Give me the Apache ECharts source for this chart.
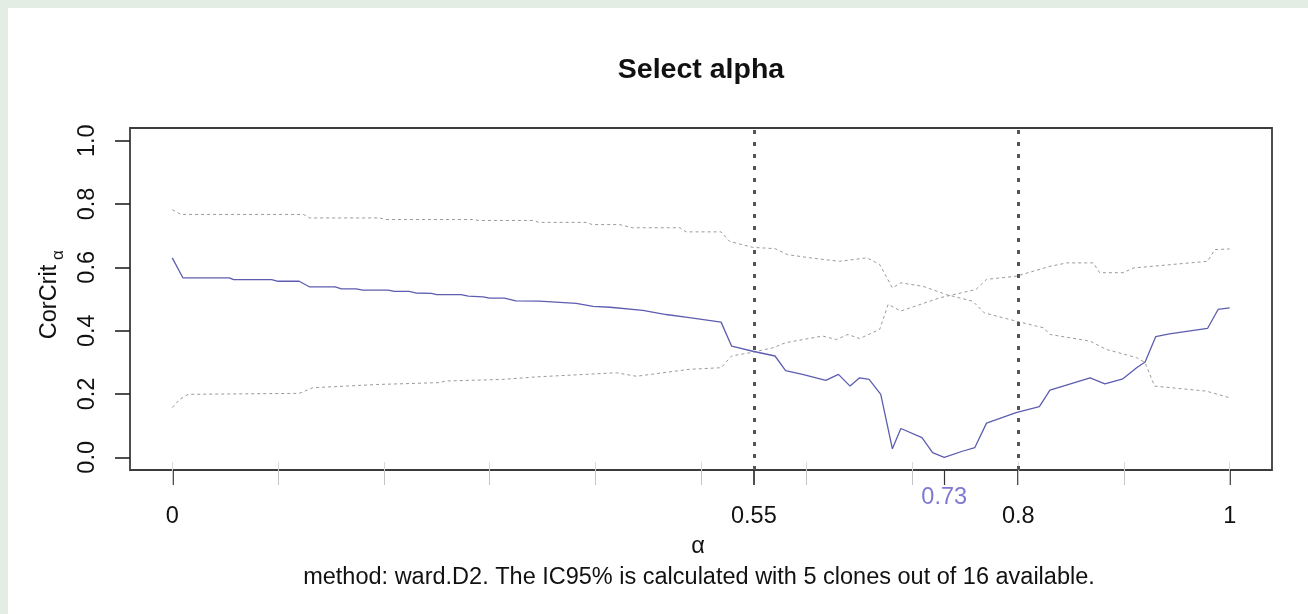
<!DOCTYPE html>
<html>
<head>
<meta charset="utf-8">
<script src="https://cdn.jsdelivr.net/npm/echarts@6/dist/echarts.min.js"></script>
<style>
  html, body { margin: 0; padding: 0; background: #e3ede4; }
  #chart { position: absolute; left: 0; top: 0; width: 1308px; height: 614px; }
</style>
</head>
<body>
<div id="chart"></div>
<script>
// ---- data ----
const critAlpha = [0, 0.01, 0.054, 0.058, 0.094, 0.1, 0.12, 0.13, 0.154, 0.16, 0.174, 0.18, 0.204, 0.21, 0.224, 0.23, 0.245, 0.25, 0.273, 0.28, 0.294, 0.30, 0.314, 0.325, 0.347, 0.382, 0.398, 0.414, 0.445, 0.467, 0.489, 0.519, 0.529, 0.549, 0.57, 0.58, 0.596, 0.618, 0.63, 0.641, 0.65, 0.659, 0.67, 0.681, 0.689, 0.709, 0.719, 0.73, 0.748, 0.759, 0.77, 0.798, 0.82, 0.83, 0.868, 0.882, 0.899, 0.912, 0.92, 0.93, 0.943, 0.979, 0.989, 1.0];
const critValue = [0.63, 0.567, 0.567, 0.561, 0.561, 0.556, 0.556, 0.538, 0.538, 0.532, 0.532, 0.528, 0.528, 0.524, 0.524, 0.519, 0.518, 0.514, 0.514, 0.509, 0.507, 0.503, 0.503, 0.494, 0.493, 0.486, 0.477, 0.474, 0.464, 0.451, 0.441, 0.427, 0.351, 0.335, 0.32, 0.274, 0.262, 0.243, 0.262, 0.225, 0.251, 0.246, 0.199, 0.027, 0.091, 0.062, 0.015, 0.0, 0.02, 0.031, 0.108, 0.141, 0.16, 0.212, 0.251, 0.232, 0.248, 0.283, 0.301, 0.381, 0.39, 0.407, 0.467, 0.472];

const upAlpha = [0, 0.008, 0.124, 0.13, 0.196, 0.202, 0.284, 0.29, 0.341, 0.347, 0.392, 0.397, 0.423, 0.435, 0.48, 0.486, 0.519, 0.527, 0.549, 0.57, 0.582, 0.603, 0.631, 0.657, 0.669, 0.681, 0.689, 0.71, 0.732, 0.757, 0.768, 0.798, 0.824, 0.83, 0.868, 0.883, 0.912, 0.92, 0.929, 0.978, 1.0];
const upValue = [0.782, 0.767, 0.767, 0.756, 0.756, 0.751, 0.751, 0.748, 0.748, 0.742, 0.742, 0.735, 0.735, 0.725, 0.725, 0.712, 0.712, 0.682, 0.663, 0.659, 0.64, 0.63, 0.619, 0.63, 0.609, 0.535, 0.551, 0.54, 0.514, 0.493, 0.456, 0.43, 0.409, 0.388, 0.367, 0.341, 0.315, 0.299, 0.225, 0.209, 0.188];

const lowAlpha = [0, 0.007, 0.015, 0.12, 0.133, 0.165, 0.193, 0.224, 0.253, 0.258, 0.312, 0.344, 0.42, 0.439, 0.489, 0.519, 0.529, 0.549, 0.568, 0.58, 0.615, 0.628, 0.639, 0.65, 0.669, 0.677, 0.689, 0.726, 0.76, 0.77, 0.798, 0.83, 0.846, 0.871, 0.877, 0.899, 0.909, 0.979, 0.986, 1.0];
const lowValue = [0.157, 0.183, 0.199, 0.202, 0.22, 0.225, 0.23, 0.233, 0.236, 0.241, 0.246, 0.254, 0.267, 0.256, 0.278, 0.283, 0.32, 0.332, 0.346, 0.362, 0.383, 0.372, 0.388, 0.375, 0.404, 0.483, 0.462, 0.504, 0.53, 0.562, 0.572, 0.603, 0.614, 0.614, 0.583, 0.583, 0.598, 0.619, 0.656, 0.658];

const cutAlphas = [0.55, 0.8];
const bestAlpha = 0.73;
const xMajorTicks = [0, 0.55, 0.8, 1];
const xMinorTicks = [0, 0.1, 0.2, 0.3, 0.4, 0.5, 0.6, 0.7, 0.8, 0.9, 1];
const yTicks = [0, 0.2, 0.4, 0.6, 0.8, 1.0];

const titleText = 'Select alpha';
const subText = 'method: ward.D2. The IC95% is calculated with 5 clones out of 16 available.';

// ---- chart ----
const FONT = '"Liberation Sans", Arial, sans-serif';
const FS = 23.5;
const zip = (xs, ys) => xs.map((x, i) => [x, ys[i]]);

const chart = echarts.init(document.getElementById('chart'), null, { renderer: 'canvas' });

const gridL = 130, gridT = 128, gridW = 1142, gridH = 342;
const cx = gridL + gridW / 2;

const baseX = { type: 'value', min: -0.04, max: 1.04, position: 'bottom', offset: 0,
  axisLine: { show: false, onZero: false }, splitLine: { show: false } };

chart.setOption({
  animation: false,
  backgroundColor: '#e3ede4',
  grid: { left: gridL, top: gridT, width: gridW, height: gridH, show: true,
          borderColor: '#3c3c3c', borderWidth: 1.8, backgroundColor: 'transparent' },
  xAxis: [
    Object.assign({}, baseX, {
      axisTick: { show: true, customValues: xMajorTicks, length: 15, lineStyle: { color: '#222', width: 1.6 } },
      axisLabel: { show: true, customValues: xMajorTicks, margin: 35, fontSize: FS, color: '#111', fontFamily: FONT,
                   formatter: v => String(v) }
    }),
    Object.assign({}, baseX, {
      axisTick: { show: true, customValues: xMinorTicks, length: 15, lineStyle: { color: '#c4c4c4', width: 1 } },
      axisLabel: { show: false }
    }),
    Object.assign({}, baseX, {
      axisTick: { show: true, inside: true, customValues: xMinorTicks, length: 8, lineStyle: { color: '#dadada', width: 1 } },
      axisLabel: { show: false }
    }),
    Object.assign({}, baseX, {
      axisTick: { show: true, customValues: [bestAlpha], length: 15, lineStyle: { color: '#333', width: 1.2 } },
      axisLabel: { show: true, customValues: [bestAlpha], margin: 16, fontSize: FS, color: '#7f78d2', fontFamily: FONT,
                   formatter: v => String(v) }
    })
  ],
  yAxis: {
    type: 'value', min: -0.04, max: 1.04,
    axisLine: { show: false, onZero: false }, splitLine: { show: false },
    axisTick: { show: true, customValues: yTicks, length: 15, lineStyle: { color: '#222', width: 1.6 } },
    axisLabel: { show: true, customValues: yTicks, rotate: 90, margin: 30, fontSize: FS, color: '#111', fontFamily: FONT,
                 formatter: v => v.toFixed(1) }
  },
  series: [
    { type: 'line', name: 'upper', data: zip(upAlpha, upValue), symbol: 'none', z: 2,
      lineStyle: { color: '#9a9a9a', width: 1, type: [3, 3] } },
    { type: 'line', name: 'lower', data: zip(lowAlpha, lowValue), symbol: 'none', z: 2,
      lineStyle: { color: '#9a9a9a', width: 1, type: [3, 3] } },
    { type: 'line', name: 'CorCrit', data: zip(critAlpha, critValue), symbol: 'none', z: 3,
      lineStyle: { color: '#5d5db0', width: 1.3 },
      markLine: { symbol: 'none', silent: true, label: { show: false },
        lineStyle: { color: '#555', width: 3, type: [4, 8] },
        data: cutAlphas.map(a => ({ xAxis: a })) } }
  ],
  graphic: [
    { type: 'rect', z: -100, silent: true, shape: { x: 8, y: 8, width: 1300, height: 606 }, style: { fill: '#ffffff' } },
    { type: 'text', x: cx, y: 70, style: { text: titleText, font: 'bold 28.5px ' + FONT, fill: '#111', align: 'center', verticalAlign: 'middle' } },
    { type: 'text', x: cx - 3, y: 547, style: { text: 'α', font: FS + 'px ' + FONT, fill: '#111', align: 'center', verticalAlign: 'middle' } },
    { type: 'text', x: cx - 2, y: 578, style: { text: subText, font: FS + 'px ' + FONT, fill: '#111', align: 'center', verticalAlign: 'middle' } },
    { type: 'text', x: 50, y: 302, rotation: Math.PI / 2, style: { text: 'CorCrit', font: FS + 'px ' + FONT, fill: '#111', align: 'center', verticalAlign: 'middle' } },
    { type: 'text', x: 58, y: 255, rotation: Math.PI / 2, style: { text: 'α', font: '17px ' + FONT, fill: '#111', align: 'center', verticalAlign: 'middle' } }
  ]
});
</script>
</body>
</html>
